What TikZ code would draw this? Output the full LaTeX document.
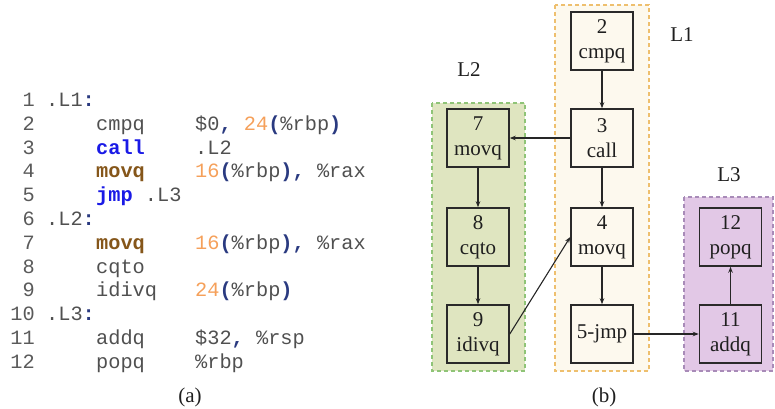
\documentclass[tikz,border=0pt]{standalone}
\usepackage{fontspec}
\setmainfont{Liberation Serif}
\setmonofont{Liberation Mono}
\usetikzlibrary{arrows.meta}

% listing colours
\definecolor{codegray}{HTML}{505050}
\definecolor{numgray}{HTML}{5A5A5A}
\definecolor{kwblue}{HTML}{1A1AE6}
\definecolor{kwbrown}{HTML}{85561A}
\definecolor{litorange}{HTML}{F5A05A}
\definecolor{punctnavy}{HTML}{2A3A80}
% block colours
\definecolor{lonefill}{HTML}{FDF9EE}
\definecolor{loneedge}{HTML}{EEBF6E}
\definecolor{ltwofill}{HTML}{DFE5C0}
\definecolor{ltwoedge}{HTML}{8FC477}
\definecolor{lthreefill}{HTML}{E2C8E6}
\definecolor{lthreeedge}{HTML}{A88BB8}
\definecolor{boxline}{HTML}{2A2A2A}

\newcommand\codefont{\ttfamily\fontsize{20.3}{24}\selectfont}
\newcommand\labelfont{\rmfamily\fontsize{21}{25}\selectfont}
\newcommand\cpun[1]{{\bfseries\color{punctnavy}#1}}
\newcommand\cnum[1]{{\color{litorange}#1}}
\newcommand\ckw[1]{{\bfseries\color{kwblue}#1}}
\newcommand\cmv[1]{{\bfseries\color{kwbrown}#1}}

\begin{document}
\begin{tikzpicture}[x=1pt,y=-1pt,
  codeline/.style={anchor=base west, inner sep=0pt, font=\codefont, text=codegray},
  lineno/.style={anchor=base east, inner sep=0pt, font=\codefont, text=numgray},
  block/.style={draw=boxline, line width=1.5pt, minimum width=62pt,
    minimum height=58pt, inner sep=0pt, align=center, font=\labelfont, text=black!88},
  cluster/.style={dashed, dash pattern=on 4pt off 3pt, line width=1.2pt},
  grouplabel/.style={font=\labelfont, text=black!88, inner sep=0pt},
  flow/.style={-{Stealth[length=6pt,width=4.5pt]}, line width=1.1pt, draw=black!85}]
\useasboundingbox (0,0) rectangle (775,408);

% ---------- (a) assembly listing ----------
\foreach \n in {1,...,12}
  \node[lineno] (ln\n) at (35,{106.5+(\n-1)*23.8}) {\n};

\node[codeline] (c1)  at (46,106.5)  {.L1\cpun{:}};
\node[codeline] (c2i) at (96,130.3)  {cmpq};
\node[codeline] (c2o) at (195,130.3) {\$0\cpun{,} \cnum{24}\cpun{(}\%rbp\cpun{)}};
\node[codeline] (c3i) at (96,154.1)  {\ckw{call}};
\node[codeline] (c3o) at (195,154.1) {.L2};
\node[codeline] (c4i) at (96,177.9)  {\cmv{movq}};
\node[codeline] (c4o) at (195,177.9) {\cnum{16}\cpun{(}\%rbp\cpun{),} \%rax};
\node[codeline] (c5i) at (96,201.7)  {\ckw{jmp} .L3};
\node[codeline] (c6)  at (46,225.5)  {.L2\cpun{:}};
\node[codeline] (c7i) at (96,249.3)  {\cmv{movq}};
\node[codeline] (c7o) at (195,249.3) {\cnum{16}\cpun{(}\%rbp\cpun{),} \%rax};
\node[codeline] (c8i) at (96,273.1)  {cqto};
\node[codeline] (c9i) at (96,296.9)  {idivq};
\node[codeline] (c9o) at (195,296.9) {\cnum{24}\cpun{(}\%rbp\cpun{)}};
\node[codeline] (c10) at (46,320.7)  {.L3\cpun{:}};
\node[codeline] (c11i) at (96,344.5) {addq};
\node[codeline] (c11o) at (195,344.5) {\$32\cpun{,} \%rsp};
\node[codeline] (c12i) at (96,368.3) {popq};
\node[codeline] (c12o) at (195,368.3) {\%rbp};

\node[grouplabel] (capa) at (190,397) {(a)};

% ---------- (b) control-flow graph ----------
% basic-block regions
\path[cluster, fill=lonefill, draw=loneedge] (555,5) rectangle (649,371);
\path[cluster, fill=ltwofill, draw=ltwoedge] (432,103) rectangle (525,371);
\path[cluster, fill=lthreefill, draw=lthreeedge] (684,197) rectangle (773,371);

\node[grouplabel] (labL1) at (682,35)  {L1};
\node[grouplabel] (labL2) at (469,70)  {L2};
\node[grouplabel] (labL3) at (729,175) {L3};

% instructions of L1
\node[block, fill=lonefill] (n2) at (602,41)  {2\\cmpq};
\node[block, fill=lonefill] (n3) at (602,138) {3\\call};
\node[block, fill=lonefill] (n4) at (602,237) {4\\movq};
\node[block, fill=lonefill] (n5) at (602,334) {5-jmp};
% instructions of L2
\node[block, fill=ltwofill] (n7) at (478,138) {7\\movq};
\node[block, fill=ltwofill] (n8) at (478,237) {8\\cqto};
\node[block, fill=ltwofill] (n9) at (478,334) {9\\idivq};
% instructions of L3
\node[block, fill=lthreefill] (n12) at (730.5,237) {12\\popq};
\node[block, fill=lthreefill] (n11) at (730.5,334) {11\\addq};

% control flow
\draw[flow] (n2) -- (n3);
\draw[flow] (n3) -- (n4);
\draw[flow] (n4) -- (n5);
\draw[flow] (n3) -- (n7);
\draw[flow] (n7) -- (n8);
\draw[flow] (n8) -- (n9);
\draw[flow] (n9.east) -- (n4.west);
\draw[flow] (n5) -- (n11);
\draw[flow] (n11) -- (n12);

\node[grouplabel] (capb) at (604,397) {(b)};
\end{tikzpicture}
\end{document}
